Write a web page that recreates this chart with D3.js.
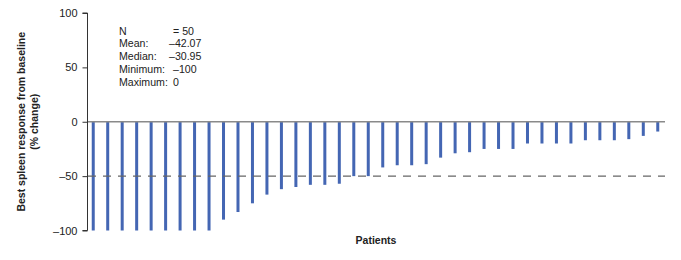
<!DOCTYPE html>
<html>
<head>
<meta charset="utf-8">
<script src="https://cdn.jsdelivr.net/npm/d3@7"></script>
<style>
  body { margin: 0; background: #fff; }
  text { font-family: "Liberation Sans", Arial, sans-serif; }
</style>
</head>
<body>
<script>
// best spleen response per patient (% change), sorted
var responses = [-100, -100, -100, -100, -100, -100, -100, -100, -100,
  -90, -83, -75, -67, -62, -60, -58, -58, -57, -50, -50,
  -42, -40, -40, -39, -33, -29, -28, -25, -25, -25,
  -20, -20, -20, -20, -17, -17, -17, -16, -13, -9];
var yTicks = [100, 50, 0, -50, -100];
var statLabels = ["N", "Mean:", "Median:", "Minimum:", "Maximum:"];
var statValues = ["= 50", "\u201342.07", "\u201330.95", "\u2013100", "0"];
var threshold = -50;

var svg = d3.select("body")
            .append("svg")
            .attr("width", 681)
            .attr("height", 260);

var x = d3.scaleBand()
    .domain(d3.range(responses.length))
    .range([86, 665]);

var y = d3.scaleLinear()
    .domain([-100, 100])
    .range([230.5, 13]);

// y axis
var yAxis = d3.axisLeft(y)
    .tickValues(yTicks)
    .tickSize(5)
    .tickPadding(5)
    .tickFormat(d => d < 0 ? "\u2013" + Math.abs(d) : d);

var gy = svg.append("g")
    .attr("transform", "translate(87.5,0)")
    .call(yAxis);
gy.select(".domain").attr("stroke", "#333").attr("d", "M-5," + y(100) + "H0V" + y(-100) + "H-5");
gy.selectAll(".tick line").attr("stroke", "#333");
gy.selectAll(".tick text")
    .attr("fill", "#222")
    .style("font-size", "11px")
    .style("font-family", "Liberation Sans, Arial, sans-serif");

// bars
svg.selectAll("rect.bar")
    .data(responses)
    .enter()
    .append("rect")
    .attr("class", "bar")
    .attr("x", (d, i) => x(i) + x.bandwidth() / 2 - 1.5)
    .attr("y", y(0))
    .attr("width", 3)
    .attr("height", d => y(d) - y(0))
    .attr("fill", "#4466b3");

// zero line
svg.append("line")
    .attr("x1", 88).attr("x2", 665)
    .attr("y1", y(0)).attr("y2", y(0))
    .attr("stroke", "#8a8a8a")
    .attr("stroke-width", 1.5);

// -50 threshold line
svg.append("line")
    .attr("x1", 88).attr("x2", 665)
    .attr("y1", y(threshold)).attr("y2", y(threshold))
    .attr("stroke", "#666")
    .attr("stroke-width", 1.2)
    .attr("stroke-dasharray", "8,7");

// stats box
var stats = svg.append("g").style("font-size", "10.6px").attr("fill", "#222");
stats.selectAll("text.lab")
    .data(statLabels)
    .enter().append("text")
    .attr("class", "lab")
    .attr("x", 119)
    .attr("y", (d, i) => 34.5 + i * 12.8)
    .text(d => d);
stats.selectAll("text.val")
    .data(statValues)
    .enter().append("text")
    .attr("class", "val")
    .attr("x", (d, i) => (i == 1 || i == 2) ? 169 : 173)
    .attr("y", (d, i) => 34.5 + i * 12.8)
    .text(d => d);

// axis titles
var ytitle = svg.append("text")
    .attr("transform", "translate(25," + y(0) + ") rotate(-90)")
    .attr("text-anchor", "middle")
    .style("font-size", "10.5px")
    .style("font-weight", "bold")
    .attr("fill", "#222");
ytitle.append("tspan").attr("x", 0).attr("dy", 0).text("Best spleen response from baseline");
ytitle.append("tspan").attr("x", 0).attr("dy", 13).text("(% change)");

svg.append("text")
    .attr("x", 376)
    .attr("y", 244)
    .attr("text-anchor", "middle")
    .style("font-size", "10.5px")
    .style("font-weight", "bold")
    .attr("fill", "#222")
    .text("Patients");
</script>
</body>
</html>
